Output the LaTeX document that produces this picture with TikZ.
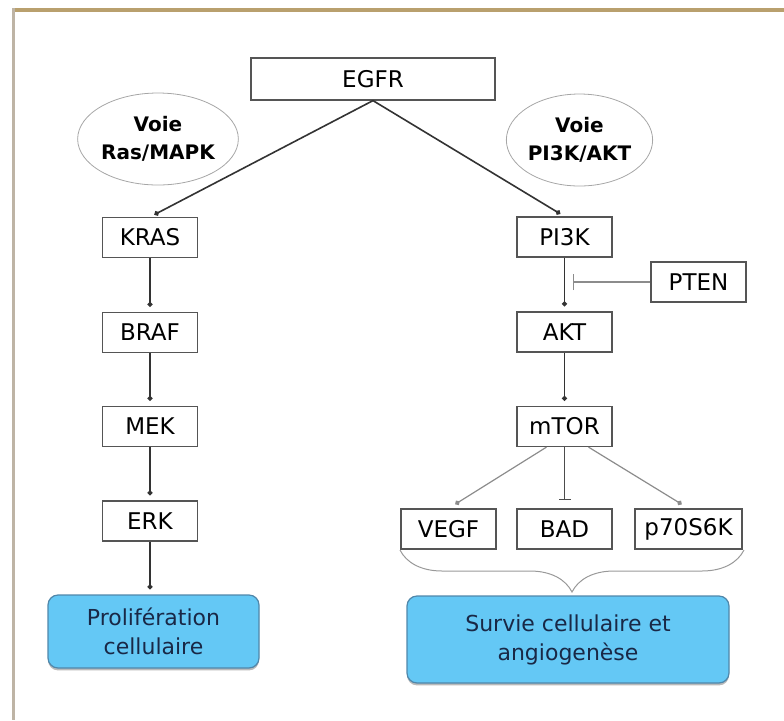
\documentclass[tikz,border=0pt]{standalone}
\usepackage{fontspec}
\setmainfont{DejaVu Sans}
\usepackage{tikz}
\usetikzlibrary{arrows.meta, positioning, shapes.geometric, decorations.pathreplacing, shadows}
\definecolor{boxline}{RGB}{85,85,85}
\definecolor{cellblue}{RGB}{100,200,245}
\definecolor{cellline}{RGB}{80,135,170}
\definecolor{celltext}{RGB}{25,40,70}
\definecolor{framegold}{RGB}{185,160,110}
\definecolor{framegrey}{RGB}{190,180,165}
\tikzset{
    prot/.style={rectangle, draw=boxline, line width=0.6pt, minimum width=47.5pt, minimum height=20pt, inner sep=1pt, font=\fontsize{11.5}{14}\selectfont},
    voie/.style={ellipse, draw=gray!70, line width=0.4pt, minimum width=71pt, minimum height=46pt, inner sep=0pt, align=center, font=\fontsize{10}{14}\selectfont\bfseries},
    effet/.style={rectangle, rounded corners=5pt, draw=cellline, fill=cellblue, line width=0.6pt, align=center, text=celltext, font=\fontsize{11}{14.5}\selectfont,
        drop shadow={shadow xshift=0pt, shadow yshift=-1.2pt, opacity=0.45, fill=black!60}},
    active/.style={-{Circle[length=2.5pt]}, line width=0.8pt, draw=black!80, shorten >=2.5pt},
    activegris/.style={-{Circle[length=2.5pt]}, line width=0.6pt, draw=gray!90, shorten >=4pt},
    inhibe/.style={-{Bar[width=8pt]}, line width=0.7pt, draw=gray!90},
}

\begin{document}
\begin{tikzpicture}[x=0.5pt, y=-0.5pt]
    \useasboundingbox (0,0) rectangle (784,720);
    % frame
    \draw[framegold, line width=2pt] (12,9.5) -- (784,9.5);
    \draw[framegrey, line width=1.5pt] (13.5,8) -- (13.5,720);

    % receptor and the two pathways
    \node[prot, minimum width=122pt, minimum height=21pt] (egfr) at (373,79) {EGFR};
    \node[voie] (rasmapk) at (158,139) {Voie\\Ras/MAPK};
    \node[voie] (pi3kakt) at (579.5,140) {Voie\\PI3K/AKT};

    % Ras/MAPK
    \node[prot] (kras) at (150,237.5) {KRAS};
    \node[prot] (braf) at (150,332.5) {BRAF};
    \node[prot] (mek) at (150,426.5) {MEK};
    \node[prot] (erk) at (150,521) {ERK};
    \node[effet, minimum width=105.5pt, minimum height=36.5pt] (prolif) at (153.5,631.5) {Prolifération\\cellulaire};

    % PI3K/AKT
    \node[prot] (pi3k) at (564.5,237) {PI3K};
    \node[prot] (pten) at (698.5,282) {PTEN};
    \node[prot] (akt) at (564.5,332) {AKT};
    \node[prot] (mtor) at (564.5,426.5) {mTOR};
    \node[prot] (vegf) at (448.5,529) {VEGF};
    \node[prot] (bad) at (564.5,529) {BAD};
    \node[prot, minimum width=53.5pt] (p70) at (688.5,529) {p70S6K};
    \node[effet, minimum width=161pt, minimum height=43.5pt] (survie) at (568,639.5) {Survie cellulaire et\\angiogenèse};

    % connectors
    \draw[active] (egfr.south) -- (kras.north);
    \draw[active] (egfr.south) -- (pi3k.north);
    \draw[active] (kras) -- (braf);
    \draw[active] (braf) -- (mek);
    \draw[active] (mek) -- (erk);
    \draw[active] (erk.south) -- (erk.south |- prolif.north);
    \draw[active] (pi3k) -- (akt);
    \draw[active] (akt) -- (mtor);
    \coordinate (cible) at (pten.west -| pi3k.south);
    \draw[inhibe, shorten >=4pt] (pten.west) -- (cible);
    \draw[activegris] ([xshift=-9pt]mtor.south) -- (vegf.north);
    \draw[activegris] ([xshift=12pt]mtor.south) -- (p70.north);
    \draw[inhibe, -{Bar[width=6pt]}, line width=0.8pt, draw=black!70, shorten >=4pt] (mtor.south) -- (bad.north);

    % brace
    \draw[gray!80, line width=0.5pt, decorate, decoration={brace, mirror, amplitude=21pt}] (400,550) -- (744,550);
\end{tikzpicture}
\end{document}
